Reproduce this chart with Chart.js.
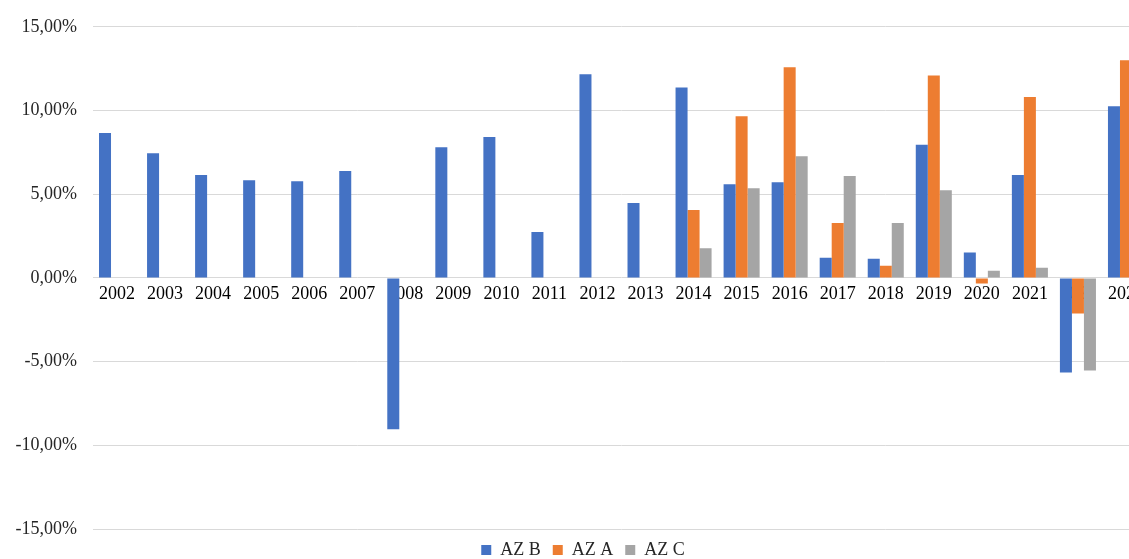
<!DOCTYPE html>
<html>
<head>
<meta charset="utf-8">
<script src="https://cdn.jsdelivr.net/npm/chart.js@4"></script>
<style>
    html, body {
        margin: 0;
        padding: 0;
        background: #ffffff;
        overflow: hidden;
    }

    #wrap {
        position: absolute;
        left: 0;
        top: 0;
        width: 1150px;
        height: 569px;
    }
</style>
</head>
<body>
<div id="wrap">
    <canvas id="returnsChart"></canvas>
</div>

<script>

/* =========================
   DATA
========================= */

const years = [
    "2002", "2003", "2004", "2005", "2006", "2007", "2008", "2009",
    "2010", "2011", "2012", "2013", "2014", "2015", "2016", "2017",
    "2018", "2019", "2020", "2021", "2022", "2023"
];

const azB = [
    8.65, 7.45, 6.14, 5.83, 5.78, 6.38, -9.04, 7.81,
    8.41, 2.74, 12.16, 4.47, 11.37, 5.60, 5.71, 1.21,
    1.15, 7.95, 1.51, 6.14, -5.65, 10.26
];

const azA = [
    null, null, null, null, null, null, null, null,
    null, null, null, null, 4.05, 9.66, 12.58, 3.28,
    0.72, 12.09, -0.34, 10.81, -2.13, 13.00
];

const azC = [
    null, null, null, null, null, null, null, null,
    null, null, null, null, 1.77, 5.35, 7.27, 6.08,
    3.28, 5.23, 0.42, 0.60, -5.53, 4.05
];

const yTicks = [-15, -10, -5, 0, 5, 10, 15];

/* =========================
   CHART
========================= */

const fontFamily = "'Liberation Serif', 'Times New Roman', serif";

const ctx =
    document.getElementById(
        "returnsChart"
    );

const returnsChart = new Chart(ctx, {

    type: "bar",

    data: {

        labels: years,

        datasets: [
            {
                label: "AZ B",
                data: azB,
                backgroundColor: "#4472C4"
            },
            {
                label: "AZ A",
                data: azA,
                backgroundColor: "#ED7D31"
            },
            {
                label: "AZ C",
                data: azC,
                backgroundColor: "#A5A5A5"
            }
        ]

    },

    options: {

        responsive: true,
        maintainAspectRatio: false,
        animation: false,

        layout: {
            padding: { top: 24, right: 0, bottom: 0, left: 16 }
        },

        datasets: {
            bar: {
                categoryPercentage: 0.75,
                barPercentage: 1.0,
                borderWidth: 0
            }
        },

        plugins: {

            legend: {
                position: "bottom",
                labels: {
                    color: "#262626",
                    boxWidth: 10,
                    boxHeight: 10,
                    padding: 12,
                    font: { family: fontFamily, size: 18 }
                }
            },

            tooltip: { enabled: false }

        },

        scales: {

            x: {
                position: { y: 0 },
                grid: { display: false, drawTicks: false },
                border: { display: false },
                ticks: {
                    color: "#000000",
                    padding: 6,
                    maxRotation: 0,
                    autoSkip: false,
                    font: { family: fontFamily, size: 18 }
                },
                afterFit: scale => {
                    scale.height = 0;
                }
            },

            y: {
                min: -15,
                max: 15,
                grid: {
                    color: "#d9d9d9",
                    lineWidth: 1,
                    drawTicks: false
                },
                border: { display: false },
                afterBuildTicks: scale => {
                    scale.ticks = yTicks.map(v => ({ value: v }));
                },
                ticks: {
                    color: "#262626",
                    padding: 16,
                    font: { family: fontFamily, size: 18 },
                    callback: v => v.toFixed(2).replace(".", ",") + "%"
                },
                afterFit: scale => {
                    scale.width = 77;
                }
            }

        }

    }

});

</script>
</body>
</html>
